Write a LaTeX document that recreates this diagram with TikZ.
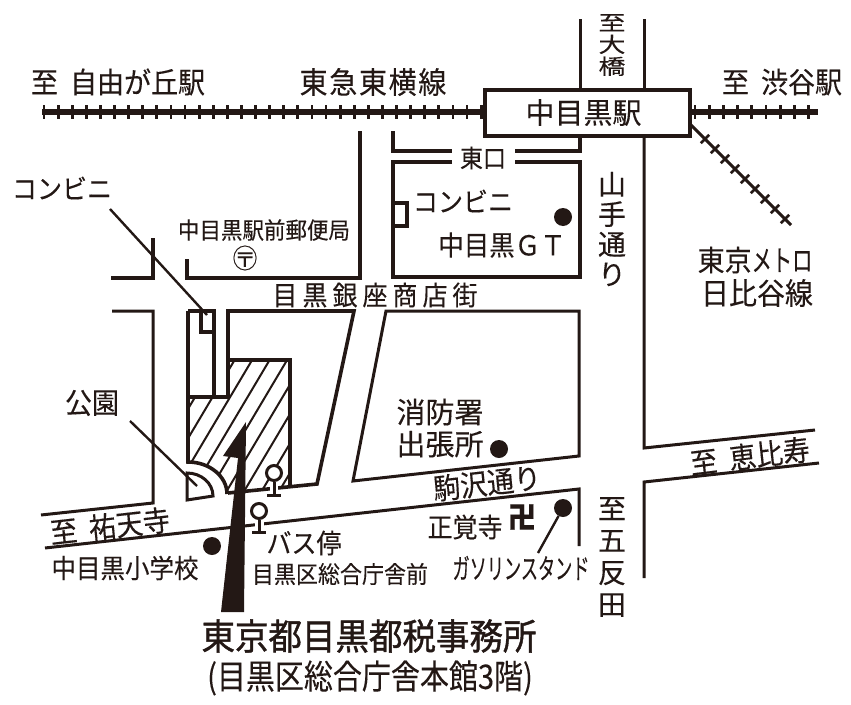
\documentclass[tikz,border=0pt]{standalone}
\usepackage{fontspec}
\setmainfont{Noto Sans CJK JP}[FakeBold=.2]
\usetikzlibrary{positioning}
\definecolor{ink}{HTML}{231815}
\newcommand{\sz}[2]{\fontsize{#1}{#2}\selectfont}
\newcommand{\spc}[1]{\addfontfeatures{LetterSpace=#1}}
\tikzset{
	road/.style={draw=ink,line width=3pt,line join=miter},
	wall/.style={draw=ink,line width=3.6pt,line join=miter},
	rail/.style={draw=ink,line width=5.5pt},
	tie/.style={draw=ink,line width=2.8pt},
	leader/.style={draw=ink,line width=2.4pt},
	lab/.style={text=ink,inner sep=0pt,font=\sz{#1}{#1},yscale=1.08,transform shape},
	vlab/.style 2 args={text=ink,inner sep=0pt,align=center,font=\sz{#1}{#2}},
	spot/.style={fill=ink,circle,inner sep=0pt,minimum size=18pt},
}
\begin{document}
\begin{tikzpicture}[x=1pt,y=-1pt]
	\useasboundingbox (0,0) rectangle (851,704);
	% railway
	\coordinate (railw) at (42,112);
	\coordinate (raile) at (818,112);
	\coordinate (metrob) at (791,225);
	\coordinate (metroa) at (690,124);
	\draw[rail] (railw) -- (raile);
	\foreach \i in {0,...,31}
		\draw[tie] (44+14.1*\i,105) -- (44+14.1*\i,119);
	\foreach \i in {0,...,8}
		\draw[tie] (695+14.2*\i,105) -- (695+14.2*\i,119);
	\node[draw=ink,fill=white,line width=4pt,minimum width=205pt,minimum height=46pt,inner sep=0pt,text=ink,font=\sz{29}{29}] (station) at (587,112.5) {\kern-7pt 中目黒駅};
	\draw[leader,line width=3pt] (metroa) -- (metrob);
	\foreach \i in {0,...,8}
		\draw[tie,line width=2.6pt] (700.8+10*\i,143.2+10*\i) -- (709.2+10*\i,134.8+10*\i);
	% roads
	\draw[road] (580,19) -- (580,88);
	\draw[road] (644,19) -- (644,88);
	\draw[road] (644,137) -- (644,448) -- (815,430);
	\draw[road] (819,463) -- (644,482) -- (644,578);
	\draw[wall] (393,131) -- (393,151) -- (452,151);
	\draw[wall] (515,151) -- (580,151) -- (580,137);
	\draw[wall] (452,162) -- (393,162) -- (393,277) -- (580,277) -- (580,162) -- (515,162);
	\draw[wall] (393,203) -- (407,203) -- (407,226) -- (393,226);
	\draw[wall] (360,131) -- (360,278) -- (187,278) -- (187,259);
	\draw[wall] (153,238) -- (153,278) -- (111,278);
	\draw[road] (112,311) -- (153,311) -- (153,503) -- (41,515);
	\draw[road] (45,548) -- (579,489) -- (579,546);
	\draw[road] (386,311) -- (579,311) -- (579,456) -- (353,481) -- cycle;
	% hatched block
	\begin{scope}
		\clip (188,397) -- (228,397) -- (228,360) -- (290,360) -- (290,488) -- (227,494) arc[start angle=0,end angle=90,x radius=39pt,y radius=32pt] -- cycle;
		\foreach \k in {-5,...,5}
			\draw[ink,line width=2pt] (287+17.5*\k-95,520) -- (287+17.5*\k+12,340);
	\end{scope}
	\draw[wall] (188,311) -- (214,311) -- (214,397);
	\draw[wall] (201,311) -- (201,332) -- (214,332);
	\draw[wall] (188,311) -- (188,462) arc[start angle=90,end angle=0,x radius=39pt,y radius=32pt];
	\draw[wall] (188,397) -- (228,397) -- (228,311) -- (354,311) -- (317,484) -- (228,493);
	\draw[wall] (228,360) -- (290,360) -- (290,487);
	\draw[road] (213,496) arc[start angle=0,end angle=90,x radius=26pt,y radius=23pt] -- (187,500) -- cycle;
	% leader lines
	\coordinate (konbinit) at (110,209);
	\coordinate (konbinib) at (207,315);
	\coordinate (parkt) at (130,421);
	\coordinate (parkb) at (197,486);
	\draw[leader] (konbinit) -- (konbinib);
	\draw[leader] (parkt) -- (parkb);
	% big arrow
	\fill[ink] (246,422) -- (223,456) -- (238,458) -- (221,612) -- (244,612) -- cycle;
	% bus stops
	\draw[white,line width=8pt] (274,482) -- (274,492);
	\draw[white,line width=9pt] (259,518) -- (259,530);
	\node[draw=ink,fill=white,circle,line width=3pt,minimum size=15pt,inner sep=0pt] (stopa) at (274,473) {};
	\node[draw=ink,fill=white,circle,line width=3pt,minimum size=15pt,inner sep=0pt] (stopb) at (259,511) {};
	\coordinate (stopafoot) at (274,495);
	\coordinate (stopbfoot) at (259,532);
	\draw[road] (stopa) -- (stopafoot);
	\draw[road] (stopb) -- (stopbfoot);
	\draw[road] (267,495) -- (281,495);
	\draw[road] (252,532) -- (266,532);
	% dots
	\node[spot] (gtdot) at (563,217) {};
	\node[spot] (firedot) at (499,449) {};
	\node[spot] (gasdot) at (563,508) {};
	\node[spot] (schooldot) at (212,546) {};
	\coordinate (gast) at (538,553);
	\draw[leader] (gasdot) -- (gast);
	% labels
	\node[lab=27] (jiyu) at (118,82) {至\hspace{.45em}自由が丘駅};
	\node[lab=28] (toyoko) at (373,82) {\spc{6}東急東横線};
	\node[lab=27] (shibuya) at (782,82) {至\hspace{.45em}渋谷駅};
	\node[vlab={27}{28},yscale=.78,transform shape] (ohashi) at (612,45) {至\\大\\橋};
	\node[vlab={28}{30}] (yamate) at (612,229) {山\\手\\通\\り};
	\node[vlab={28}{32}] (gotanda) at (612,557) {至\\五\\反\\田};
	\node[lab=23] (eastexit) at (483,158) {東口};
	\node[lab=25] (konbinib) at (463,201) {コンビニ};
	\node[lab=25.5] (gt) at (502,245) {中目黒ＧＴ};
	\node[lab=27] (metroname) at (755,260) {東京\scalebox{.75}[1]{メトロ}};
	\node[lab=28] (hibiya) at (757,293) {日比谷線};
	\node[lab=25] (konbinia) at (62,188) {コンビニ};
	\node[lab=21.5] (post) at (264,230) {中目黒駅前郵便局};
	\node[lab=25] (postmark) at (245,258) {〶};
	\node[lab=25] (ginza) at (375,295) {\spc{20}目黒銀座商店街};
	\node[lab=27] (park) at (92,403) {公園};
	\node[lab=27,rotate=6] (yutenji) at (110,526) {至\hspace{.45em}祐天寺};
	\node[lab=27,rotate=6.5] (ebisu) at (750,456) {至\hspace{.45em}恵比寿};
	\node[lab=27,rotate=6] (komazawa) at (487,483) {駒沢通り};
	\node[vlab={29}{32}] (fire) at (440,428) {消防署\\出張所};
	\node[lab=25] (temple) at (465,527) {正覚寺};
	\node[lab=28,font=\sz{28}{28}\bfseries] (manji) at (522,517) {卍};
	\node[lab=26,xscale=.66] (gas) at (521,568) {ガソリンスタンド};
	\node[lab=24.5] (school) at (125,568) {中目黒小学校};
	\node[lab=25] (busstop) at (304,543) {バス停};
	\node[lab=22] (stopname) at (340,574) {目黒区総合庁舎前};
	\node[lab=33.5] (title) at (369,636) {\addfontfeatures{FakeBold=1.2}東京都目黒都税事務所};
	\node[lab=29,yscale=1.08] (subtitle) at (370,678) {(目黒区総合庁舎本館3階)};
\end{tikzpicture}
\end{document}
